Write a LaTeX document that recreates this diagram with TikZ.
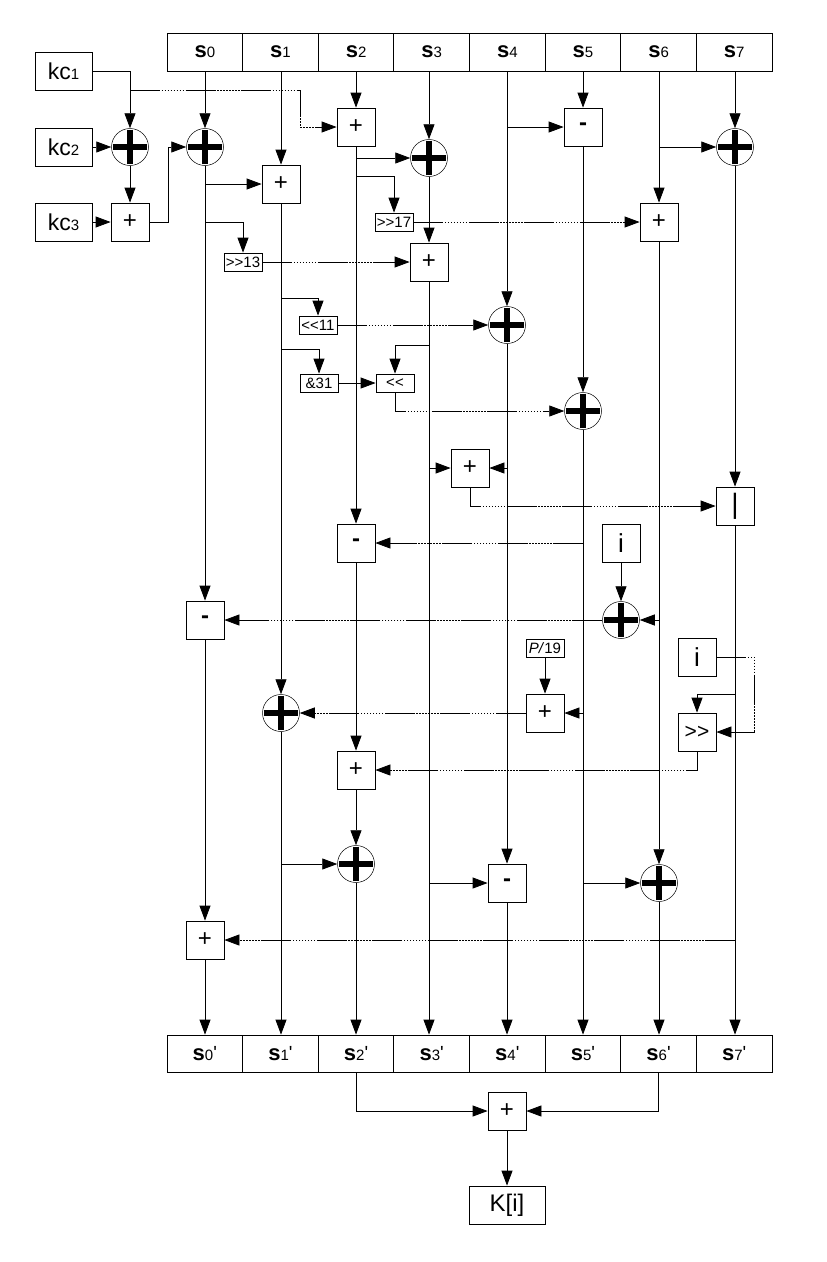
\documentclass[tikz,border=0pt]{standalone}
\usepackage{fontspec}
\setmainfont{Liberation Sans}[Ligatures=TeXOff]
\usetikzlibrary{arrows.meta}
\newcommand{\sv}[1]{{\fontsize{22}{22}\selectfont\bfseries s}{\fontsize{15}{15}\selectfont #1}}
\newcommand{\kcv}[1]{{\fontsize{23}{23}\selectfont kc}{\fontsize{15}{15}\selectfont #1}}
\begin{document}
\begin{tikzpicture}[x=1pt,y=-1pt,
 ln/.style={line width=0.8pt},
 arr/.style={ln,-{Triangle[length=15pt,width=11pt]}},
 mix/.style={dash pattern=on 30pt off 1.5pt on 1.5pt off 1.5pt on 1.5pt off 1.5pt on 1.5pt off 1.5pt on 1.5pt off 1.5pt on 1.5pt off 1.5pt on 1.5pt off 1.5pt on 1.5pt off 1.5pt on 1.5pt off 1.5pt},
 reg/.style={draw,line width=0.8pt,minimum width=75.625pt,minimum height=38pt,inner sep=0pt},
 opbox/.style={draw,line width=0.8pt,minimum width=38pt,minimum height=38pt,inner sep=0pt,font=\fontsize{24}{24}\selectfont},
 small/.style={draw,line width=0.8pt,minimum width=38pt,minimum height=18pt,inner sep=0pt,font=\fontsize{15}{15}\selectfont},
 kcbox/.style={draw,line width=0.8pt,minimum width=57pt,minimum height=38pt,inner sep=0pt},
 xorc/.style={circle,draw,line width=0.5pt,minimum size=37pt,inner sep=0pt,
   path picture={
     \draw[line width=5.5pt] ([xshift=-17pt]path picture bounding box.center) -- ([xshift=17pt]path picture bounding box.center);
     \draw[line width=5.5pt] ([yshift=-17pt]path picture bounding box.center) -- ([yshift=17pt]path picture bounding box.center);}}
]
\useasboundingbox (0,0) rectangle (827,1262);
% registers
\foreach \i in {0,...,7} {
  \node[reg] (t\i) at ({167+75.625*(\i+0.5)},52) {\sv{\i}};
  \node[reg,minimum height=37pt] (b\i) at ({167+75.625*(\i+0.5)},1053.5) {\sv{\i}\raisebox{1pt}{\fontsize{19}{19}\selectfont '}};
}
% left key inputs
\node[kcbox] (kc1) at (63.5,71) {\kcv{1}};
\node[kcbox] (kc2) at (63.5,147) {\kcv{2}};
\node[kcbox] (kc3) at (63.5,222) {\kcv{3}};
\node[xorc] (xa) at (130,147) {};
\node[opbox] (pa) at (130,222) {+};
% operators
\node[xorc] (x0) at (205,147) {};
\node[opbox] (p1) at (281,184) {+};
\node[small] (sr13) at (243,262) {>>13};
\node[opbox] (p2) at (356,127) {+};
\node[xorc] (x3) at (429,158) {};
\node[small] (sr17) at (394,222) {>>17};
\node[opbox] (p3) at (429,262) {+};
\node[opbox] (m5) at (583,127) {\textbf{-}};
\node[xorc] (x7) at (735,147) {};
\node[opbox] (p6) at (659,222) {+};
\node[small] (sl11) at (318,325) {<<11};
\node[xorc] (x4) at (507,325) {};
\node[small] (a31) at (319,383) {\&31};
\node[small] (shl) at (395,383) {<<};
\node[xorc] (x5) at (583,411) {};
\node[opbox] (p34) at (470,468) {+};
\node[opbox,font=\fontsize{28}{28}\selectfont] (or7) at (735,506) {|};
\node[opbox] (m2) at (356,543) {\textbf{-}};
\node[opbox,font=\fontsize{26}{26}\selectfont] (i1) at (621,543) {i};
\node[xorc] (xi) at (621,620) {};
\node[opbox] (m0) at (205,620) {\textbf{-}};
\node[small] (p19) at (545,648) {\textit{P/}19};
\node[opbox] (pp) at (545,713) {+};
\node[xorc] (x1) at (281,713) {};
\node[opbox,font=\fontsize{26}{26}\selectfont] (i2) at (697,657) {i};
\node[opbox,font=\fontsize{21}{21}\selectfont] (shr) at (697,732) {>>};
\node[opbox] (p2b) at (356,770) {+};
\node[xorc] (x2) at (356,864) {};
\node[opbox] (m4) at (507,883) {\textbf{-}};
\node[xorc] (x6) at (659,883) {};
\node[opbox] (p0) at (205,940) {+};
\node[opbox] (pk) at (507,1111) {+};
\node[draw,line width=0.8pt,minimum width=76pt,minimum height=38pt,font=\fontsize{24}{24}\selectfont] (K) at (507,1205) {K[i]};
% branch coordinates
\coordinate (br1) at (130,90);
\coordinate (b11) at (281,298);
\coordinate (b31) at (281,349);
\coordinate (b17) at (356,176);
\coordinate (bsh) at (429,345);
\coordinate (bsr) at (735,694);
% connectors
\draw[arr] (kc1.east) -| (xa.north);
\draw[arr,mix] (br1) -- (300,90) |- (p2.west);
\draw[arr] (kc2) -- (xa);
\draw[arr] (xa) -- (pa);
\draw[arr] (kc3) -- (pa);
\draw[arr] (pa.east) -- ++(19,0) |- (x0.west);
\draw[arr] (x0 |- t0.south) -- (x0);
\draw[arr] (x0) -- (m0);
\draw[arr] (x0 |- p1) -- (p1);
\draw[arr] (x0 |- pa) -| (sr13.north);
\draw[arr,mix] (sr13) -- (p3);
\draw[arr] (p1 |- t1.south) -- (p1);
\draw[arr] (p1) -- (x1);
\draw[arr] (b11) -| (sl11.north);
\draw[arr,mix] (sl11) -- (x4);
\draw[arr] (b31) -| (a31.north);
\draw[arr,mix] (a31) -- (shl);
\draw[arr] (p2 |- t2.south) -- (p2);
\draw[arr] (p2) -- (m2);
\draw[arr] (p2 |- x3) -- (x3);
\draw[arr] (b17) -| (sr17.north);
\draw[arr,mix] (sr17) -- (p6);
\draw[arr] (x3 |- t3.south) -- (x3);
\draw[arr] (x3) -- (p3);
\draw[arr] (p3) -- (p3 |- b3.north);
\draw[arr] (bsh) -| (shl.north);
\draw[arr,mix] (shl.south) |- (x5.west);
\draw[arr] (p3 |- p34) -- (p34);
\draw[arr] (x4 |- t4.south) -- (x4);
\draw[arr] (x4) -- (m4);
\draw[arr] (x4 |- m5) -- (m5);
\draw[arr] (x4 |- p34) -- (p34);
\draw[arr,mix] (p34.south) |- (or7.west);
\draw[arr] (m5 |- t5.south) -- (m5);
\draw[arr] (m5) -- (x5);
\draw[arr] (x5) -- (x5 |- b5.north);
\draw[arr,mix] (x5 |- m2) -- (m2);
\draw[arr] (x5 |- pp) -- (pp);
\draw[arr] (x5 |- x6) -- (x6);
\draw[arr] (p6 |- t6.south) -- (p6);
\draw[arr] (p6) -- (x6);
\draw[arr] (x6) -- (x6 |- b6.north);
\draw[arr] (p6 |- x7) -- (x7);
\draw[arr] (p6 |- xi) -- (xi);
\draw[arr] (x7 |- t7.south) -- (x7);
\draw[arr] (x7) -- (or7);
\draw[arr] (or7) -- (or7 |- b7.north);
\draw[arr] (bsr) -| (shr.north);
\draw[arr,mix] (or7 |- p0) -- (p0);
\draw[arr] (i1) -- (xi);
\draw[arr,mix] (xi) -- (m0);
\draw[arr] (m0) -- (p0);
\draw[arr] (p0) -- (p0 |- b0.north);
\draw[arr] (p19) -- (pp);
\draw[arr,mix] (pp) -- (x1);
\draw[arr] (x1) -- (x1 |- b1.north);
\draw[arr,mix] (i2.east) -- ++(38,0) |- (shr.east);
\draw[arr,mix] (shr.south) |- (p2b.east);
\draw[arr] (m2) -- (p2b);
\draw[arr] (p2b) -- (x2);
\draw[arr] (x2) -- (x2 |- b2.north);
\draw[arr] (x1 |- x2) -- (x2);
\draw[arr] (p3 |- m4) -- (m4);
\draw[arr] (m4) -- (m4 |- b4.north);
\draw[arr] (b2.south) |- (pk.west);
\draw[arr] (b6.south) |- (pk.east);
\draw[arr] (pk) -- (K);
\end{tikzpicture}
\end{document}
